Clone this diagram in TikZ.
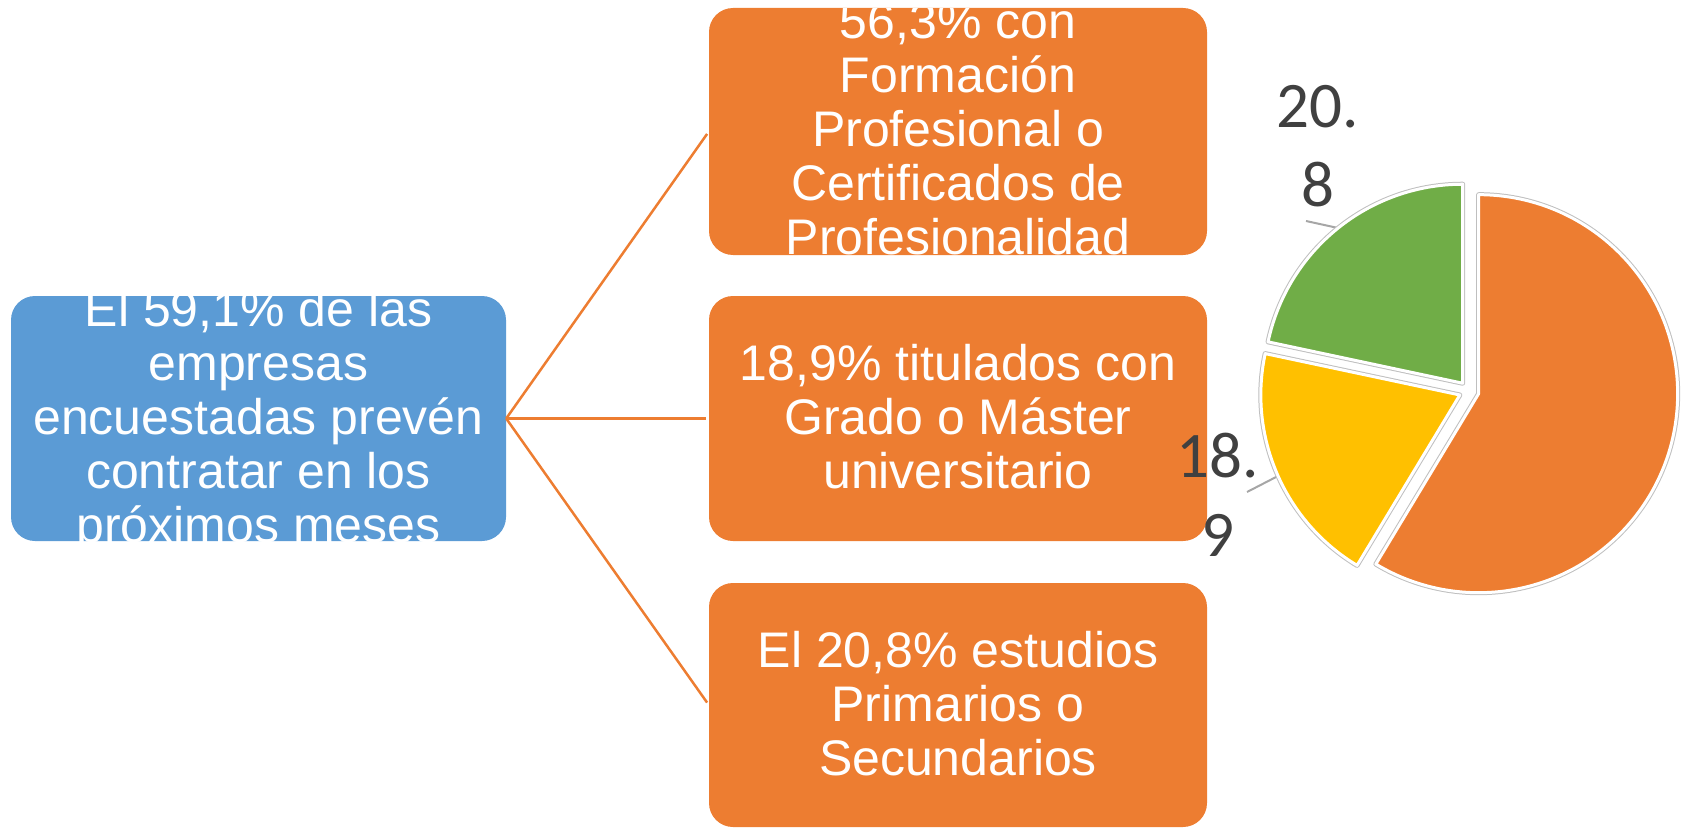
\documentclass[tikz,border=0pt]{standalone}
\usepackage{fontspec}
\setmainfont{Liberation Sans}
\newfontfamily\lblfont{Carlito}
\definecolor{boxorange}{HTML}{ED7D31}
\definecolor{boxblue}{HTML}{5B9BD5}
\definecolor{piegreen}{HTML}{70AD47}
\definecolor{pieyellow}{HTML}{FFC000}
\definecolor{lblgray}{HTML}{404040}
\definecolor{leadergray}{HTML}{A6A6A6}
\definecolor{pieedge}{HTML}{BFBFBF}
\newcommand\myslice[4]{% color, start, end, mid
  \draw[pieedge, line width=5pt, line join=round] (#4:10) -- ++(#2:199) arc[start angle=#2, end angle=#3, radius=199] -- cycle;
  \fill[#1] (#4:10) -- ++(#2:199) arc[start angle=#2, end angle=#3, radius=199] -- cycle;
  \draw[white, line width=3pt, line join=round] (#4:10) -- ++(#2:199) arc[start angle=#2, end angle=#3, radius=199] -- cycle;
}
\begin{document}
\begin{tikzpicture}[x=1pt,y=-1pt,
  boxshape/.style={rectangle, rounded corners=24pt, inner sep=0pt, draw=none},
  bluebox/.style={boxshape, fill=boxblue},
  orangebox/.style={boxshape, fill=boxorange},
  boxtext/.style={anchor=base, inner sep=0pt, text=white, font=\fontsize{50}{54}\selectfont},
  pielabel/.style={anchor=base, inner sep=0pt, text=lblgray, font=\lblfont\fontsize{65}{79}\selectfont},
  conn/.style={draw=boxorange, line width=2.5pt, shorten >=3pt},
  leader/.style={draw=leadergray, line width=2pt}]
\useasboundingbox (0,0) rectangle (1685,829);

% boxes
\node[bluebox, minimum width=495pt, minimum height=245pt] (root) at (258.5,418.5) {};
\node[orangebox, minimum width=498pt, minimum height=247pt] (b1) at (958,131.5) {};
\node[orangebox, minimum width=498pt, minimum height=245pt] (b2) at (958,418.5) {};
\node[orangebox, minimum width=498pt, minimum height=244pt] (b3) at (958,705) {};

% clipped texts
\begin{scope}
\clip[rounded corners=24pt] (root.south west) rectangle (root.north east);
\node[boxtext] (roott) at (258.5,326.5) {\begin{tabular}[t]{@{}c@{}}El 59,1\% de las\\empresas\\encuestadas prevén\\contratar en los\\próximos meses\end{tabular}};
\end{scope}
\begin{scope}
\clip[rounded corners=24pt] (b1.south west) rectangle (b1.north east);
\node[boxtext] (b1t) at (958,39) {\begin{tabular}[t]{@{}c@{}}56,3\% con\\Formación\\Profesional o\\Certificados de\\Profesionalidad\end{tabular}};
\end{scope}
\begin{scope}
\clip[rounded corners=24pt] (b2.south west) rectangle (b2.north east);
\node[boxtext] (b2t) at (958,380.5) {\begin{tabular}[t]{@{}c@{}}18,9\% titulados con\\Grado o Máster\\universitario\end{tabular}};
\end{scope}
\begin{scope}
\clip[rounded corners=24pt] (b3.south west) rectangle (b3.north east);
\node[boxtext] (b3t) at (958,667) {\begin{tabular}[t]{@{}c@{}}El 20,8\% estudios\\Primarios o\\Secundarios\end{tabular}};
\end{scope}

% connectors
\draw[conn] (root.east) -- (b1.west);
\draw[conn] (root.east) -- (b2.west);
\draw[conn] (root.east) -- (b3.west);

% leader lines
\coordinate (lgA) at (1306,221);
\coordinate (lgB) at (1338,228);
\coordinate (lyA) at (1247,492);
\coordinate (lyB) at (1278,476);
\draw[leader] (lgA) -- (lgB);
\draw[leader] (lyA) -- (lyB);

% pie
\begin{scope}[shift={(1469,391)}, yscale=-1]
\myslice{boxorange}{90}{-121.1}{-15.55}
\myslice{pieyellow}{-121.1}{-192}{-156.55}
\myslice{piegreen}{168}{90}{129}
\end{scope}

% labels
\node[pielabel] (lg) at (1318,128) {\begin{tabular}[t]{@{}c@{}}20.\\8\end{tabular}};
\node[pielabel] (ly) at (1218,477) {\begin{tabular}[t]{@{}c@{}}18.\\9\end{tabular}};
\end{tikzpicture}
\end{document}
